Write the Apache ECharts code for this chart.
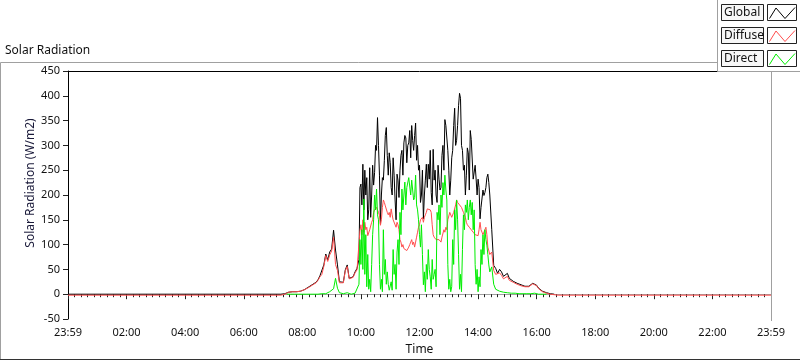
<!DOCTYPE html>
<html>
<head>
<meta charset="utf-8">
<script src="https://cdn.jsdelivr.net/npm/echarts@6/dist/echarts.min.js"></script>
<style>
  html, body { margin: 0; padding: 0; background: #fff; }
  #chart { width: 800px; height: 361px; }
</style>
</head>
<body>
<div id="chart"></div>
<script>
// names / ticks
const seriesNames = ['Global', 'Diffuse', 'Direct'];
const seriesColors = ['#000000', '#ff4d4d', '#00ee00'];
const yTicks = [-50, 450, 50];        // min, max, step
const xTicks = [0, 1440, 120];        // minutes after 23:59

// morning and evening: one reading every 4 min, midday: every 2 min
const amStart = 436, amStep = 4;      // 07:16
const directAmStart = 448;            // 07:28
const midStart = 596, midStep = 2;    // 09:56
const pmStart = 868, pmStep = 4;      // 14:28

const globalAm = [0, 0, 1, 3, 4, 5, 5, 5, 5, 6, 6, 7, 9, 10, 14, 17, 19, 20, 24, 29, 37, 41, 59, 81, 69, 85, 91, 129, 89, 59, 25, 23, 24, 49, 59, 32, 32, 35, 45, 52];
const globalMid = [
  70, 215, 222, 180, 262, 170, 250, 200, 235, 150,
  170, 255, 155, 200, 260, 220, 245, 300, 290, 356,
  300, 240, 142, 200, 235, 230, 270, 320, 336, 280,
  240, 285, 265, 215, 200, 275, 240, 190, 150, 242,
  230, 195, 250, 280, 290, 240, 305, 320, 315, 265,
  300, 305, 330, 275, 340, 310, 290, 320, 345, 270,
  300, 250, 260, 185, 200, 250, 152, 200, 230, 262,
  215, 262, 232, 290, 205, 180, 292, 230, 250, 200,
  185, 260, 232, 210, 215, 280, 300, 250, 352, 340,
  340, 290, 250, 200, 230, 275, 290, 340, 375, 300,
  310, 340, 380, 405, 395, 300, 290, 250, 260, 200,
  240, 295, 285, 210, 330, 312, 309, 232, 228, 260,
  232, 200, 232, 215, 152, 175, 172, 210, 199, 205,
  215, 235, 242, 225, 200
];
const globalPm = [130, 58, 52, 42, 50, 45, 36, 40, 42, 32, 28, 26, 24, 22, 20, 19, 17, 16, 14, 16, 18, 22, 24, 18, 12, 9, 6, 4, 3, 2, 1, 1, 0];

const diffuseAm = [-2, -1, 0, 2, 4, 5, 5, 5, 5, 6, 6, 7, 9, 10, 13, 16, 18, 20, 23, 28, 35, 40, 56, 78, 66, 79, 87, 115, 60, 48, 23, 22, 23, 47, 56, 31, 31, 34, 43, 49];
const diffuseMid = [
  50, 128, 140, 120, 150, 125, 145, 130, 135, 118,
  115, 130, 130, 145, 150, 165, 170, 172, 175, 178,
  165, 159, 139, 150, 175, 190, 185, 178, 180, 165,
  160, 165, 155, 172, 160, 150, 152, 148, 135, 145,
  140, 130, 110, 105, 95, 100, 92, 90, 95, 88,
  90, 95, 100, 105, 110, 100, 105, 95, 105, 115,
  125, 135, 140, 150, 150, 155, 145, 155, 160, 165,
  172, 175, 175, 170, 165, 140, 120, 115, 115, 110,
  110, 108, 110, 112, 105, 115, 115, 130, 125, 135,
  130, 150, 150, 165, 165, 155, 155, 165, 165, 180,
  190, 185, 185, 180, 180, 175, 175, 165, 165, 155,
  145, 140, 140, 135, 135, 130, 130, 125, 125, 120,
  120, 118, 118, 130, 145, 130, 125, 120, 120, 130,
  135, 120, 95, 92, 80
];
const diffusePm = [85, 48, 40, 36, 43, 38, 31, 34, 36, 28, 25, 24, 22, 20, 19, 17, 16, 15, 13, 15, 17, 21, 22, 17, 11, 8, 5, 3, 2, 1, 0, 0, -1, -2, -2];

const directAm = [0, 0, 0, 0, 0, 0, 0, 0, 0, 0, 0, 0, 0, 0, 0, 0, 0, 0, 1, 2, 1, 2, 5, 3, 11, 32, 12, 3, 1, 1, 2, 3, 1, 0, 1, 2, 3];
const directMid = [
  20, 110, 60, 130, 50, 192, 40, 120, 15, 80,
  10, 30, 5, 60, 120, 150, 200, 170, 212, 160,
  150, 60, 10, 30, 5, 130, 40, 70, 20, 45,
  20, 8, 5, 25, 8, 90, 40, 60, 10, 85,
  110, 60, 165, 120, 212, 170, 200, 226, 180, 215,
  215, 235, 235, 200, 230, 228, 190, 195, 240, 180,
  170, 150, 120, 95, 140, 80, 19, 45, 5, 60,
  30, 90, 50, 35, 10, 70, 30, 40, 50, 15,
  165, 150, 180, 120, 200, 175, 225, 200, 240, 210,
  190, 60, 10, 30, 5, 15, 110, 60, 170, 130,
  190, 150, 80, 10, 40, 5, 90, 160, 130, 180,
  165, 190, 150, 175, 190, 160, 185, 130, 170, 60,
  20, 50, 5, 35, 15, 90, 60, 120, 80, 130,
  110, 99, 80, 59, 45
];
const directPm = [55, 20, 10, 7, 6, 5, 4, 3, 3, 2, 2, 2, 2, 1, 1, 1, 1, 1, 1, 1, 1, 1, 2, 0, 0, 0, 0, 0, 0];

// night readings [minute, value]
const globalNight = [[0, 0]];
const diffuseNight = [[0, -2]];
const diffuseEvening = [[1440, -2]];

function toPairs(start, step, values) {
  return values.map((v, i) => [start + i * step, v]);
}

const globalData = globalNight.concat(
  toPairs(amStart, amStep, globalAm), toPairs(midStart, midStep, globalMid), toPairs(pmStart, pmStep, globalPm));
const diffuseData = diffuseNight.concat(
  toPairs(amStart, amStep, diffuseAm), toPairs(midStart, midStep, diffuseMid), toPairs(pmStart, pmStep, diffusePm), diffuseEvening);
const directData = toPairs(directAmStart, amStep, directAm).concat(
  toPairs(midStart, midStep, directMid), toPairs(pmStart, pmStep, directPm));

function timeLabel(v) {
  if (v === 0 || v === 1440) return '23:59';
  let h = Math.round(v / 60);
  return (h < 10 ? '0' + h : '' + h) + ':00';
}

const font = 'Noto Sans';
const txt = '#111';
const grey = '#a0a0a0';

let legendEls = [];
seriesNames.forEach((name, i) => {
  let y0 = 4 + i * 23;
  legendEls.push({
    type: 'rect', shape: { x: 721.5, y: y0 + 0.5, width: 42, height: 16 },
    style: { fill: '#f7f7f7', stroke: '#222', lineWidth: 1 }, z: 101
  });
  legendEls.push({
    type: 'text', x: 724, y: y0 + 9,
    style: { text: name, font: '12px ' + font, fill: txt, textVerticalAlign: 'middle' }, z: 102
  });
  legendEls.push({
    type: 'rect', shape: { x: 767.5, y: y0 + 0.5, width: 29, height: 16 },
    style: { fill: '#fff', stroke: '#222', lineWidth: 1 }, z: 101
  });
  legendEls.push({
    type: 'polyline',
    shape: { points: [[769.5, y0 + 14.5], [776, y0 + 4], [785, y0 + 14.5], [795, y0 + 3.5]] },
    style: { stroke: seriesColors[i], lineWidth: 1, fill: null }, z: 102
  });
});

const chart = echarts.init(document.getElementById('chart'), null, { renderer: 'canvas' });
chart.setOption({
  animation: false,
  backgroundColor: '#fff',
  textStyle: { fontFamily: font },
  grid: { left: 68, right: 29, top: 71, bottom: 40, containLabel: false },
  xAxis: {
    type: 'value', min: xTicks[0], max: xTicks[1], interval: xTicks[2],
    name: 'Time', nameLocation: 'middle', nameGap: 25,
    nameTextStyle: { fontSize: 12, color: txt, fontFamily: font },
    axisLine: { lineStyle: { color: grey, width: 1 } },
    axisTick: { show: true, length: 5, lineStyle: { color: '#222' } },
    minorTick: { show: true, splitNumber: 9, length: 3, lineStyle: { color: '#222' } },
    splitLine: { show: false },
    axisLabel: { fontSize: 11, color: txt, margin: 8, formatter: timeLabel, showMinLabel: true, showMaxLabel: true }
  },
  yAxis: {
    type: 'value', min: yTicks[0], max: yTicks[1], interval: yTicks[2],
    axisLine: { show: true, lineStyle: { color: '#000', width: 1 } },
    axisTick: { show: true, length: 5, lineStyle: { color: '#222' } },
    splitLine: { show: false },
    axisLabel: { fontSize: 11, color: txt, margin: 8 }
  },
  series: [
    { name: 'Global', type: 'line', data: globalData, showSymbol: false, lineStyle: { color: seriesColors[0], width: 1 }, z: 2 },
    { name: 'Diffuse', type: 'line', data: diffuseData, showSymbol: false, lineStyle: { color: seriesColors[1], width: 1 }, z: 3 },
    { name: 'Direct', type: 'line', data: directData, showSymbol: false, lineStyle: { color: seriesColors[2], width: 1 }, z: 4 }
  ],
  graphic: [
    // outer frame
    { type: 'polyline', shape: { points: [[717, 62.5], [0.5, 62.5], [0.5, 359.5]] }, style: { stroke: grey, lineWidth: 1, fill: null }, z: 50 },
    { type: 'line', shape: { x1: 0, y1: 359.5, x2: 800, y2: 359.5 }, style: { stroke: '#333', lineWidth: 1 }, z: 50 },
    // plot border top / right
    { type: 'line', shape: { x1: 68, y1: 71.5, x2: 771, y2: 71.5 }, style: { stroke: '#000', lineWidth: 1 }, z: 50 },
    { type: 'line', shape: { x1: 771.5, y1: 71, x2: 771.5, y2: 321 }, style: { stroke: grey, lineWidth: 1 }, z: 50 },
    // section title
    { type: 'text', x: 5, y: 51, style: { text: 'Solar Radiation', font: '12px ' + font, fill: txt, textVerticalAlign: 'middle' }, z: 50 },
    // y axis title
    { type: 'text', x: 31, y: 183, rotation: Math.PI / 2,
      style: { text: 'Solar Radiation (W/m2)', font: '12px ' + font, fill: '#1a1a3a', textAlign: 'center', textVerticalAlign: 'middle' }, z: 50 },
    // legend panel
    { type: 'polyline', shape: { points: [[717.5, 0], [717.5, 71.5], [800, 71.5]] }, style: { stroke: grey, lineWidth: 1, fill: '#fff' }, z: 100 }
  ].concat(legendEls)
});
</script>
</body>
</html>
